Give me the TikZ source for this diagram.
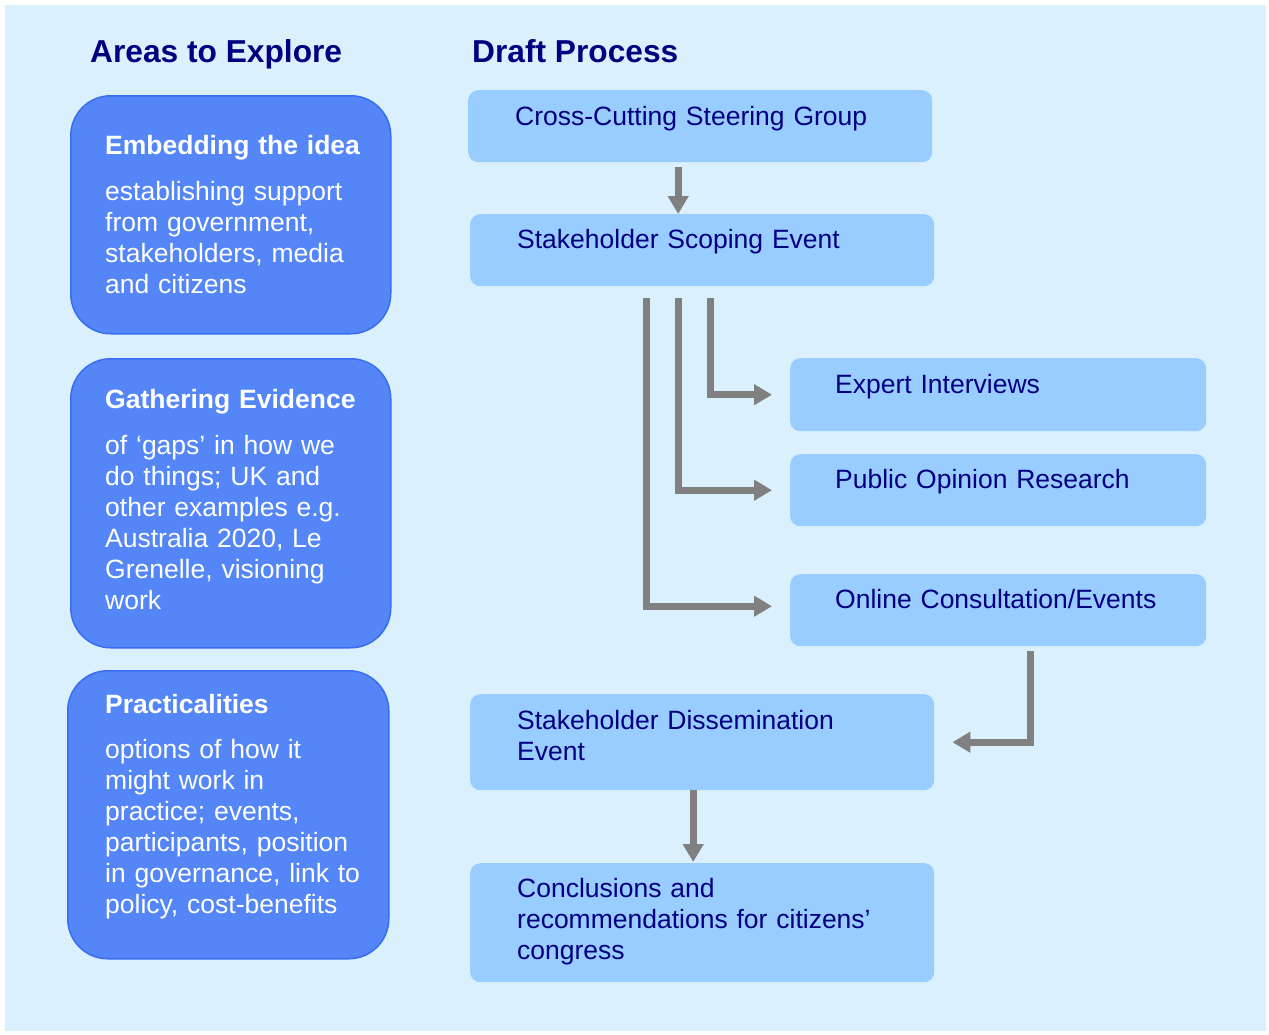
\documentclass[tikz,border=0pt]{standalone}
\usepackage{fontspec}
\setmainfont{Liberation Sans}
\usetikzlibrary{arrows.meta}
\definecolor{navy}{RGB}{0,0,128}
\definecolor{bgcyan}{RGB}{218,240,252}
\definecolor{areafill}{RGB}{84,134,248}
\definecolor{areaedge}{RGB}{58,108,240}
\definecolor{procfill}{RGB}{153,204,255}
\definecolor{flowgray}{RGB}{128,128,128}

\begin{document}
\begin{tikzpicture}[x=1pt, y=-1pt,
    areabox/.style={draw=areaedge, line width=1.5pt, fill=areafill, rounded corners=40pt, anchor=north west, inner sep=0pt},
    procbox/.style={fill=procfill, rounded corners=10pt, anchor=north west, inner sep=0pt},
    areatext/.style={anchor=base west, inner sep=0pt, text width=290pt, align=left, text=white, font=\fontsize{26.5}{31}\selectfont},
    proctext/.style={anchor=base west, inner sep=0pt, text width=400pt, align=left, text=navy, font=\fontsize{26.5}{31}\selectfont},
    heading/.style={anchor=base west, inner sep=0pt, text=navy, font=\fontsize{31.7}{36}\selectfont\bfseries},
    flow/.style={draw=flowgray, line width=7pt, -{Triangle[length=18pt,width=20pt]}}]

    \useasboundingbox (0,0) rectangle (1269,1034);
    \fill[bgcyan] (5,5) rectangle (1266,1031);

    \node[heading] (areas) at (90,62) {Areas to Explore};
    \node[heading] (draft) at (472,62) {Draft Process};

    % areas to explore
    \node[areabox, minimum width=320pt, minimum height=238pt] (embed) at (70,95) {};
    \node[areabox, minimum width=320pt, minimum height=289pt] (gather) at (70,358) {};
    \node[areabox, minimum width=321pt, minimum height=288pt] (pract) at (67,670) {};

    \node[areatext] (embedtxt) at (105,154) {\textbf{Embedding the idea}\\[15pt]
      establishing support\\ from government,\\ stakeholders, media\\ and citizens};
    \node[areatext] (gathertxt) at (105,408) {\textbf{Gathering Evidence}\\[15pt]
      of ‘gaps’ in how we\\ do things; UK and\\ other examples e.g.\\ Australia 2020, Le\\ Grenelle, visioning\\ work};
    \node[areatext] (practtxt) at (105,713) {\textbf{Practicalities}\\[14pt]
      options of how it\\ might work in\\ practice; events,\\ participants, position\\ in governance, link to\\ policy, cost-benefits};

    % draft process
    \node[procbox, minimum width=464pt, minimum height=72pt] (cross) at (468,90) {};
    \node[procbox, minimum width=464pt, minimum height=72pt] (scoping) at (470,214) {};
    \node[procbox, minimum width=416pt, minimum height=73pt] (expert) at (790,358) {};
    \node[procbox, minimum width=416pt, minimum height=72pt] (public) at (790,454) {};
    \node[procbox, minimum width=416pt, minimum height=72pt] (online) at (790,574) {};
    \node[procbox, minimum width=464pt, minimum height=96pt] (dissem) at (470,694) {};
    \node[procbox, minimum width=464pt, minimum height=119pt] (concl) at (470,863) {};

    \node[proctext] (crosstxt) at (515,125) {Cross-Cutting Steering Group};
    \node[proctext] (scopingtxt) at (517,248) {Stakeholder Scoping Event};
    \node[proctext] (experttxt) at (835,393) {Expert Interviews};
    \node[proctext] (publictxt) at (835,488) {Public Opinion Research};
    \node[proctext] (onlinetxt) at (835,608) {Online Consultation/Events};
    \node[proctext] (dissemtxt) at (517,729) {Stakeholder Dissemination\\ Event};
    \node[proctext] (concltxt) at (517,897) {Conclusions and\\ recommendations for citizens’\\ congress};

    \draw[flow] ([xshift=-22pt,yshift=-5pt]cross.south) coordinate (c1) -- (c1 |- scoping.north);
    \draw[flow] ([xshift=8pt,yshift=-12pt]scoping.south) |- ([xshift=-18pt]expert.west);
    \draw[flow] ([xshift=-24pt,yshift=-12pt]scoping.south) |- ([xshift=-18pt]public.west);
    \draw[flow] ([xshift=-56pt,yshift=-12pt]scoping.south) |- ([xshift=-18pt,yshift=4pt]online.west);
    \draw[flow] ([xshift=32pt,yshift=-5pt]online.south) |- ([xshift=18pt]dissem.east);
    \draw[flow] ([xshift=-9pt]dissem.south) -- ([xshift=-9pt,yshift=1pt]concl.north);
\end{tikzpicture}
\end{document}
